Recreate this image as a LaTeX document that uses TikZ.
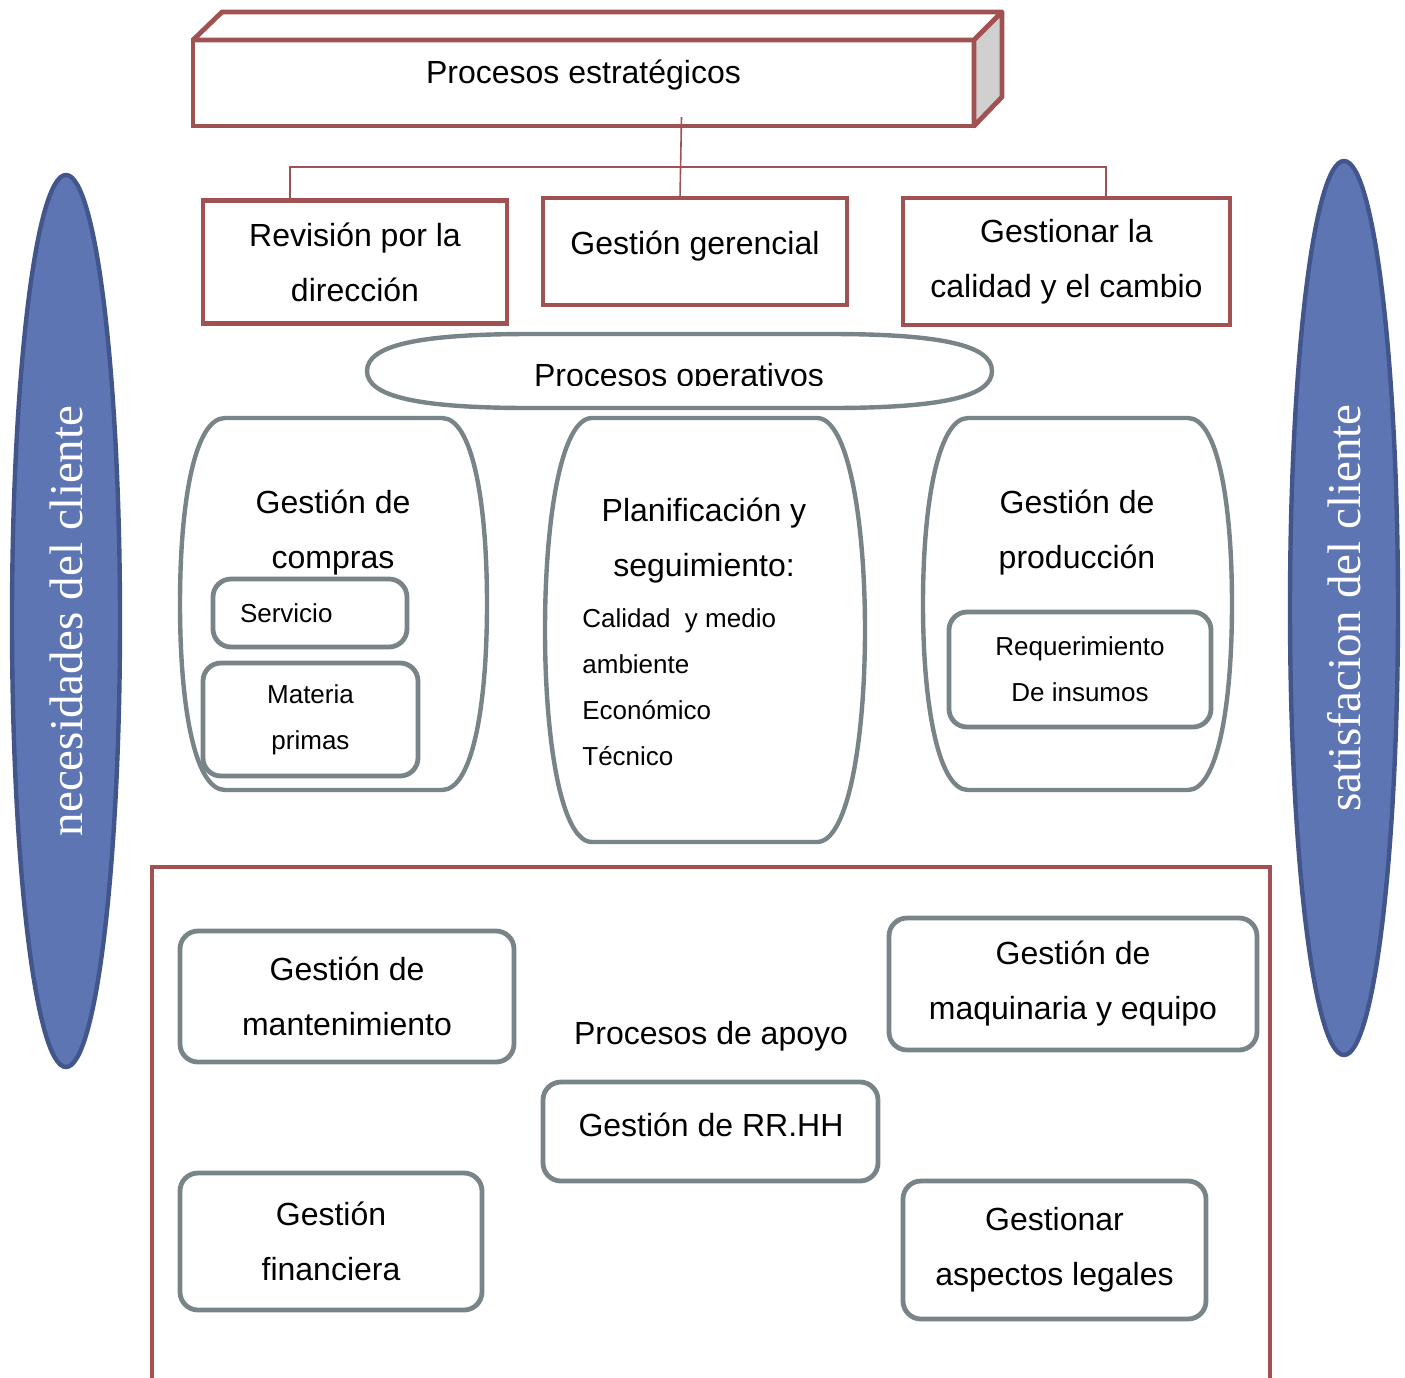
\documentclass[tikz,border=0pt]{standalone}
\usepackage{fontspec}
\setmainfont{Liberation Sans}
\newfontfamily\clientfont{Liberation Serif}
\usetikzlibrary{shapes.geometric}
\definecolor{brick}{RGB}{160,82,82}
\definecolor{slate}{RGB}{120,132,136}
\definecolor{clientblue}{RGB}{94,117,180}
\definecolor{clientedge}{RGB}{66,86,140}
\definecolor{sidegray}{RGB}{208,208,208}
\tikzset{
    bigtxt/.style={font=\fontsize{16}{27.5}\selectfont},
    smalltxt/.style={font=\fontsize{13}{23}\selectfont},
    procline/.style={draw=brick, line width=2.4pt},
    procbox/.style={
        procline,
        fill=white,
        inner sep=0pt, outer sep=0pt,
        bigtxt, align=center},
    subbox/.style={
        draw=slate, line width=2.4pt,
        fill=white,
        rounded corners=9pt,
        inner sep=0pt, outer sep=0pt,
        align=center},
    barrel/.style={draw=slate, line width=2.2pt, fill=white},
    client/.style={
        ellipse, draw=clientedge, line width=2.2pt,
        fill=clientblue, text=white,
        rotate=90, inner sep=0pt,
        minimum height=54pt,
        font=\clientfont\fontsize{23.5}{28}\selectfont},
    link/.style={draw=brick, line width=0.8pt}}

\begin{document}
\begin{tikzpicture}[x=0.5pt,y=-0.5pt]
\useasboundingbox (0,0) rectangle (1405,1378);

\node[procbox, minimum width=390.5pt, minimum height=43pt] (est) at (583.5,83) {};
\draw[procline, line join=round, fill=white] (est.north west) -- ++(29,-28) -- ++(780,0) -- (est.north east) -- cycle;
\draw[procline, line join=round, fill=sidegray] (est.north east) -- ++(28,-28) -- ++(0,85) -- (est.south east) -- cycle;
\node[bigtxt] (esttxt) at (583.5,75) {Procesos estratégicos};

\node[procbox, minimum width=152pt, minimum height=61.5pt] (rev) at (355,262) {Revisión por la\\dirección};
\node[procbox, minimum width=152pt, minimum height=53.5pt] (ger) at (695,251.5) {};
\node[bigtxt] (gertxt) at (695,246) {Gestión gerencial};
\node[procbox, minimum width=163.5pt, minimum height=63.5pt] (cal) at (1066.5,261.5) {Gestionar la\\calidad y el cambio};

\coordinate (brL) at (290,167);
\coordinate (brR) at (1106,167);
\draw[link] (rev.north -| brL) -- (brL) -- (brR) -- (cal.north -| brR);
\draw[link] ([xshift=49pt,yshift=4.5pt]est.south) -- ([xshift=-7.5pt]ger.north);

\draw[barrel] (367,371) .. controls (367,345) and (420,334) .. (530,334) -- (830,334)
    .. controls (940,334) and (992,345) .. (992,371) .. controls (992,397) and (940,408) .. (830,408)
    -- (530,408) .. controls (420,408) and (367,397) .. (367,371) -- cycle;
\begin{scope}
    \clip (360,330) rectangle (1000,385);
    \node[bigtxt, anchor=base] (opetxt) at (679,386) {Procesos operativos};
\end{scope}

\draw[barrel] (225,418) -- (442,418) .. controls (472,418) and (487,500) .. (487,604)
    .. controls (487,708) and (472,790) .. (442,790) -- (225,790)
    .. controls (195,790) and (180,708) .. (180,604) .. controls (180,500) and (195,418) .. (225,418) -- cycle;
\draw[barrel] (592,418) -- (817,418) .. controls (848,418) and (865,520) .. (865,630)
    .. controls (865,740) and (848,842) .. (817,842) -- (592,842)
    .. controls (561,842) and (545,740) .. (545,630) .. controls (545,520) and (561,418) .. (592,418) -- cycle;
\draw[barrel] (968,418) -- (1188,418) .. controls (1217,418) and (1232,500) .. (1232,604)
    .. controls (1232,708) and (1217,790) .. (1188,790) -- (968,790)
    .. controls (939,790) and (923,708) .. (923,604) .. controls (923,500) and (939,418) .. (968,418) -- cycle;

\node[bigtxt, align=center] (comptxt) at (333,533) {Gestión de\\compras};
\node[subbox, smalltxt, minimum width=97pt, minimum height=34pt, text width=70pt, align=left] (ser) at (310,613) {Servicio};
\node[subbox, smalltxt, minimum width=107.5pt, minimum height=56.5pt] (mat) at (310.5,719.5) {Materia\\primas};

\node[bigtxt, align=center] (plantxt) at (704,541) {Planificación y\\seguimiento:};
\node[smalltxt, align=left, anchor=west, inner sep=0pt] (planlist) at (582,687) {Calidad\ \ y medio\\ambiente\\Económico\\Técnico};

\node[bigtxt, align=center] (prodtxt) at (1077,533) {Gestión de\\producción};
\node[subbox, smalltxt, minimum width=131pt, minimum height=57.5pt] (req) at (1080,669.5) {Requerimiento\\De insumos};

\draw[procline] (152,1395) -- (152,867) -- (1270,867) -- (1270,1395);
\node[bigtxt] (apoyo) at (711,1036) {Procesos de apoyo};
\node[subbox, bigtxt, minimum width=167pt, minimum height=65.5pt] (man) at (347,996.5) {Gestión de\\mantenimiento};
\node[subbox, bigtxt, minimum width=184pt, minimum height=66pt] (maq) at (1073,984) {Gestión de\\maquinaria y equipo};
\node[subbox, minimum width=167.5pt, minimum height=49.5pt] (rrhh) at (710.5,1131.5) {};
\node[bigtxt] (rrhhtxt) at (711,1125) {Gestión de RR.HH};
\node[subbox, bigtxt, minimum width=151pt, minimum height=68.5pt] (fin) at (331,1241.5) {Gestión\\financiera};
\node[subbox, bigtxt, minimum width=151.5pt, minimum height=69pt] (leg) at (1054.5,1250) {Gestionar\\aspectos legales};

\node[client, minimum width=446pt] (need) at (66,621) {necesidades del cliente};
\node[client, minimum width=447pt] (sat) at (1344,608) {satisfacion del cliente};
\end{tikzpicture}
\end{document}
